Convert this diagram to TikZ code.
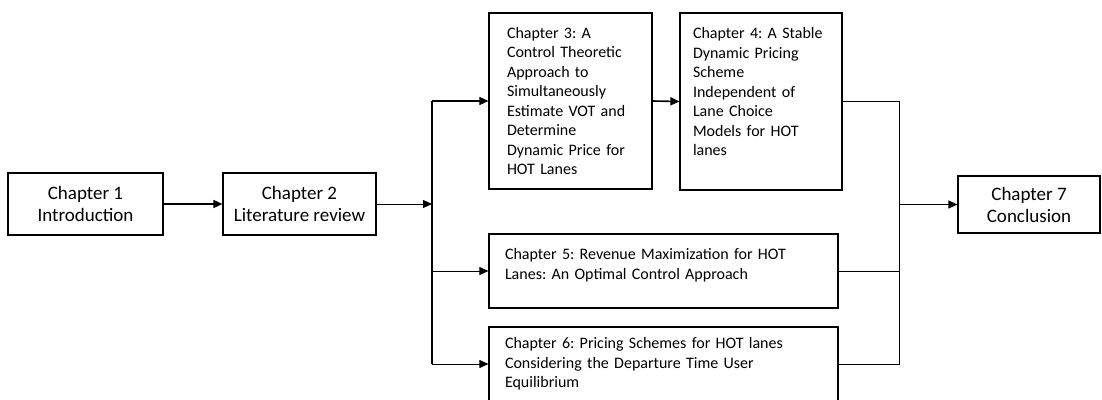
\documentclass[tikz,border=0pt]{standalone}
\usepackage{fontspec}
\setmainfont{Carlito}
\usetikzlibrary{arrows.meta}

\tikzset{
  bigbox/.style={draw, line width=1.2pt, align=center, inner sep=0pt,
    font=\fontsize{19}{22}\selectfont},
  textbox/.style={draw, line width=1.2pt, align=left, inner ysep=0pt,
    font=\fontsize{16}{19.5}\selectfont},
  link/.style={line width=1pt},
  arr/.style={line width=1pt, -{Triangle[length=9pt,width=8pt]}},
}

\begin{document}
\frenchspacing
\begin{tikzpicture}[x=1pt, y=-1pt]
  \clip (0,0) rectangle (1102,399);
  \fill[white] (0,0) rectangle (1102,399);
  % Chapters 1 and 2.
  \node[bigbox, minimum width=155pt, minimum height=62pt] (ch1) at (85.5,204)
    {Chapter 1\\Introduction};
  \node[bigbox, minimum width=153pt, minimum height=62pt] (ch2) at (299.5,204)
    {Chapter 2\\Literature review};
  % Middle chapters.
  \node[textbox, text width=127pt, inner xsep=18pt, minimum height=176pt] (ch3) at (570.5,101)
    {Chapter 3: A\\Control Theoretic\\Approach to\\Simultaneously\\Estimate VOT and\\Determine\\Dynamic Price for\\HOT Lanes};
  \node[textbox, text width=136pt, inner xsep=13pt, minimum height=177pt] (ch4) at (761,101.5)
    {Chapter 4: A Stable\\Dynamic Pricing\\Scheme\\Independent of\\Lane Choice\\Models for HOT\\lanes\\ \mbox{}};
  \node[textbox, text width=317pt, inner xsep=16pt, minimum height=74pt] (ch5) at (663.5,271)
    {Chapter 5: Revenue Maximization for HOT\\Lanes: An Optimal Control Approach\\[-5pt]\mbox{}};
  \node[textbox, text width=317pt, inner xsep=16pt, minimum height=74pt] (ch6) at (663.5,364)
    {Chapter 6: Pricing Schemes for HOT lanes\\Considering the Departure Time User\\Equilibrium};
  % Chapter 7.
  \node[bigbox, minimum width=142pt, minimum height=57pt] (ch7) at (1029,204.5)
    {Chapter 7\\Conclusion};
  % Bus lines.
  \coordinate (busL) at (432,0);
  \coordinate (busR) at (899,0);
  % Arrows.
  \draw[arr, line width=1.6pt] (ch1.east) -- (ch2.west);
  \draw[arr] (ch2.east) -- (ch2.east -| busL);
  \draw[link, line width=1.6pt] (busL |- ch3.west) -- (busL |- ch6.west);
  \draw[arr, line width=1.6pt] (busL |- ch3.west) -- (ch3.west);
  \draw[arr, line width=1.6pt] (ch3.east) -- (ch4.west);
  \draw[arr] (busL |- ch5.west) -- (ch5.west);
  \draw[arr] (busL |- ch6.west) -- (ch6.west);
  \draw[link] (ch4.east) -- (busR |- ch4.east) -- (busR |- ch6.east) -- (ch6.east);
  \draw[link] (ch5.east) -- (busR |- ch5.east);
  \draw[arr] (busR |- ch7.west) -- (ch7.west);
\end{tikzpicture}
\end{document}
